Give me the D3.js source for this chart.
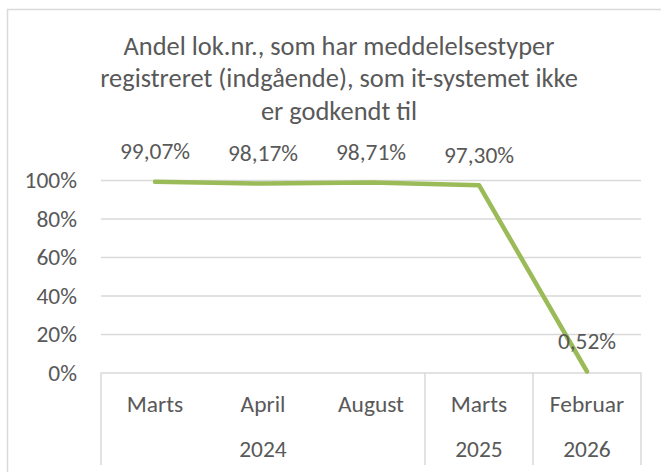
<!DOCTYPE html>
<html>
<head>
<meta charset="utf-8">
<script src="https://cdn.jsdelivr.net/npm/d3@7"></script>
<style>
  html, body { margin: 0; padding: 0; background: #fff; }
  svg { display: block; }
  text { font-family: Carlito, Lato, "Open Sans", sans-serif; fill: #595959; }
</style>
</head>
<body>
<svg id="chart" width="661" height="472"></svg>
<script>
// ---- data ----
const titleLines = [
  "Andel lok.nr., som har meddelelsestyper",
  "registreret (indgående), som it-systemet ikke",
  "er godkendt til"
];
const months = ["Marts", "April", "August", "Marts", "Februar"];
const years = ["2024", "2024", "2024", "2025", "2026"];
const values = [99.07, 98.17, 98.71, 97.30, 0.52];
const valueLabels = ["99,07%", "98,17%", "98,71%", "97,30%", "0,52%"];
const yTicks = [0, 20, 40, 60, 80, 100];

// ---- layout ----
const W = 661, H = 472;
const plot = { left: 101, right: 641, top: 180, bottom: 372.5 };
const svg = d3.select("#chart");

// chart frame (right/bottom edge lie outside the picture)
svg.append("path")
  .attr("d", `M7.5,${H + 5} V9.5 H${W + 5}`)
  .attr("fill", "none").attr("stroke", "#d9d9d9").attr("stroke-width", 1.5);

const idx = d3.range(months.length);
const x = d3.scaleBand().domain(idx).range([plot.left, plot.right]).padding(0);
const y = d3.scaleLinear().domain([0, 100]).range([plot.bottom, plot.top]);

// font fitting helper
function fitSize(str, target, weight) {
  const t = svg.append("text").attr("font-size", 100).text(str);
  const w = t.node().getComputedTextLength();
  t.remove();
  return 100 * target / w;
}
const titleSize = fitSize(titleLines[0], 431);
const labelSize = fitSize("August", 66);

// gridlines via axis
const yAxis = d3.axisLeft(y).tickValues(yTicks).tickSize(-(plot.right - plot.left)).tickFormat(d => d + "%");
const gY = svg.append("g").attr("transform", `translate(${plot.left},0)`).call(yAxis);
gY.select(".domain").remove();
gY.selectAll(".tick line").attr("stroke", "#d9d9d9").attr("stroke-width", 1.5);
gY.selectAll(".tick text")
  .attr("x", -24).attr("dy", "0.34em")
  .attr("font-size", labelSize).attr("fill", "#595959")
  .style("font-family", "Carlito, Lato, 'Open Sans', sans-serif");

// category axis boxes
const catBottom = 465;
const groupBounds = [];
years.forEach((yr, i) => {
  if (i === 0 || years[i - 1] !== yr) groupBounds.push({ year: yr, start: i, end: i });
  else groupBounds[groupBounds.length - 1].end = i;
});
const sepX = [plot.left].concat(groupBounds.map(g => x(g.end) + x.bandwidth()));
svg.append("g").selectAll("line").data(sepX).join("line")
  .attr("x1", d => d).attr("x2", d => d)
  .attr("y1", plot.bottom).attr("y2", catBottom)
  .attr("stroke", "#d9d9d9").attr("stroke-width", 1.5);

// month labels
svg.append("g").selectAll("text").data(idx).join("text")
  .attr("x", i => x(i) + x.bandwidth() / 2)
  .attr("y", 411.5)
  .attr("text-anchor", "middle")
  .attr("font-size", labelSize)
  .text(i => months[i]);

// year labels
svg.append("g").selectAll("text").data(groupBounds).join("text")
  .attr("x", g => (x(g.start) + x(g.end) + x.bandwidth()) / 2)
  .attr("y", 457)
  .attr("text-anchor", "middle")
  .attr("font-size", labelSize)
  .text(g => g.year);

// line
const line = d3.line().x(i => x(i) + x.bandwidth() / 2).y(i => y(values[i]));
svg.append("path").datum(idx)
  .attr("d", line)
  .attr("fill", "none")
  .attr("stroke", "#9bbb59")
  .attr("stroke-width", 4.5)
  .attr("stroke-linecap", "round")
  .attr("stroke-linejoin", "round");

// value labels
svg.append("g").selectAll("text").data(idx).join("text")
  .attr("x", i => x(i) + x.bandwidth() / 2)
  .attr("y", i => y(values[i]) - 22.5)
  .attr("text-anchor", "middle")
  .attr("font-size", labelSize)
  .text(i => valueLabels[i]);

// title
svg.append("g").selectAll("text").data(titleLines).join("text")
  .attr("x", 339)
  .attr("y", (d, i) => 54.5 + i * 32.5)
  .attr("text-anchor", "middle")
  .attr("font-size", titleSize)
  .text(d => d);
</script>
</body>
</html>
